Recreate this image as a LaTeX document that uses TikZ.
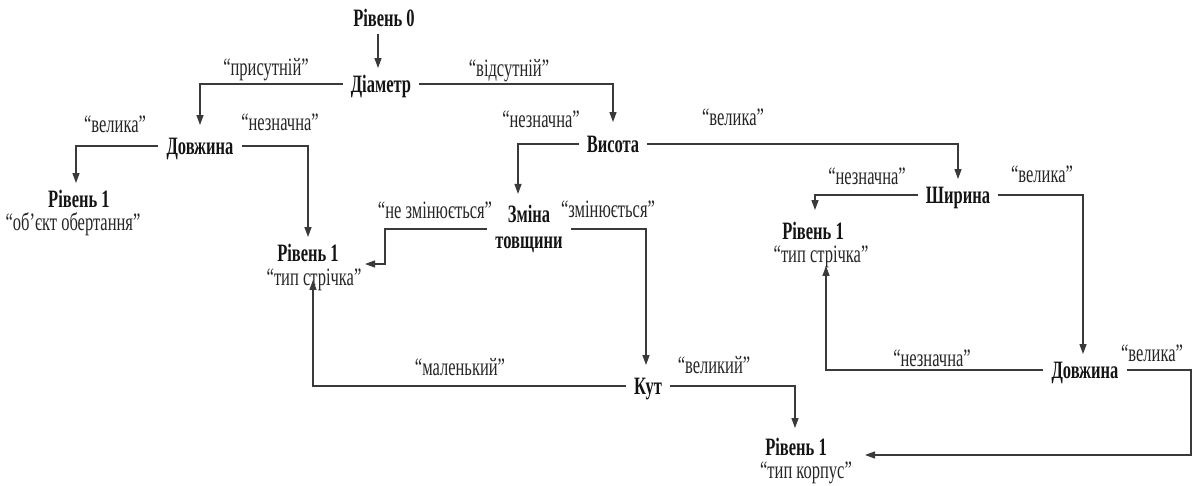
\documentclass[tikz,border=0pt]{standalone}
\usepackage{fontspec}
\setmainfont{Liberation Serif}[FakeStretch=0.66]
\usetikzlibrary{arrows.meta}
\definecolor{ink}{HTML}{141414}
\definecolor{wire}{HTML}{3A3A3A}
\definecolor{soft}{HTML}{262626}
\begin{document}
\begin{tikzpicture}[x=1pt,y=-1pt,
  key/.style={font=\fontsize{25}{28}\selectfont\bfseries, text=ink,
    text height=16.5pt, text depth=0pt, inner xsep=8pt, inner ysep=7.5pt},
  lbl/.style={font=\fontsize{25}{28}\selectfont, text=soft,
    text height=11.5pt, text depth=0pt, inner sep=3pt},
  conn/.style={draw=wire, line width=1.25pt,
    -{Triangle[length=10pt,width=7pt]}}]
\useasboundingbox (0,0) rectangle (1196,486);

% decision nodes
\node[key] (lv0)  at (384,18)  {Рівень 0};
\node[key] (diam) at (381,84)  {Діаметр};
\node[key] (dovL) at (200,146) {Довжина};
\node[key] (vys)  at (613,144) {Висота};
\node[key] (shyr) at (958,195) {Ширина};
\node[font=\fontsize{25}{26}\selectfont\bfseries, text=ink, align=center,
      inner xsep=8pt, inner ysep=4pt] (zmina) at (529,229) {Зміна\\товщини};
\node[key] (kut)  at (648,386) {Кут};
\node[key] (dovR) at (1085,370) {Довжина};

% terminal nodes
\node[key] (lvL) at (79,199)  {Рівень 1};
\node[lbl] (subL) at (73,225) {“об'єкт обертання”};
\node[key] (lvM) at (308,253) {Рівень 1};
\node[lbl] (subM) at (314,280) {“тип стрічка”};
\node[key] (lvR) at (813,231) {Рівень 1};
\node[lbl] (subR) at (821,257) {“тип стрічка”};
\node[key] (lvB) at (796,447) {Рівень 1};
\node[lbl] (subB) at (806,473) {“тип корпус”};

% branch labels
\node[lbl] at (266,70)  {“присутній”};
\node[lbl] at (509,71)  {“відсутній”};
\node[lbl] at (115,127) {“велика”};
\node[lbl] at (280,125) {“незначна”};
\node[lbl] at (541,122) {“незначна”};
\node[lbl] at (733,120) {“велика”};
\node[lbl] at (435,213) {“не змінюється”};
\node[lbl] at (608,212) {“змінюється”};
\node[lbl] at (867,179) {“незначна”};
\node[lbl] at (1042,177) {“велика”};
\node[lbl] at (460,370) {“маленький”};
\node[lbl] at (714,368) {“великий”};
\node[lbl] at (932,361) {“незначна”};
\node[lbl] at (1152,356) {“велика”};

% entry points on the side of the terminal pairs
\coordinate (inM) at (365,264);
\coordinate (inB) at (865,455);

% connectors
\draw[conn] ([xshift=-6pt]lv0.south) -- ([xshift=-3pt]diam.north);
\draw[conn, shorten >=5pt] (diam.west) -| (dovL.north);
\draw[conn, shorten >=6pt] (diam.east) -| (vys.north);
\draw[conn] (dovL.west) -| ([xshift=-3pt]lvL.north);
\draw[conn] (dovL.east) -| (lvM.north);
\draw[conn, shorten >=7pt] (vys.west) -| ([xshift=-11pt]zmina.north);
\draw[conn] (vys.east) -| (shyr.north);
\draw[conn] (zmina.west) -| ([xshift=20pt]inM) -- (inM);
\draw[conn, shorten >=5pt] (zmina.east) -| ([xshift=-2pt]kut.north);
\draw[conn, shorten >=-9pt] (kut.west) -| ([xshift=-1pt]subM.south);
\draw[conn, shorten >=3pt] (kut.east) -| ([xshift=-1pt]lvB.north);
\draw[conn, shorten >=5pt] (shyr.west) -| ([xshift=2pt]lvR.north);
\draw[conn] (shyr.east) -| ([xshift=-2pt]dovR.north);
\draw[conn] (dovR.west) -| ([xshift=5pt]subR.south);
\draw[conn] (dovR.east) -| ([xshift=326pt]inB) -- (inB);
\end{tikzpicture}
\end{document}
